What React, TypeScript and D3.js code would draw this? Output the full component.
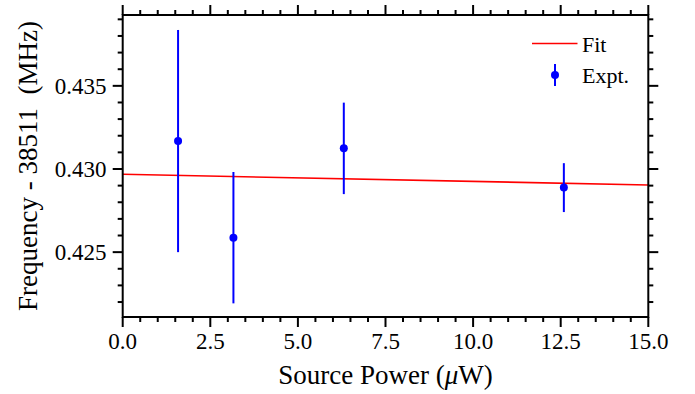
import React from "react";
import * as d3 from "d3";

const powers = [1.58, 3.16, 6.31, 12.59];
const freqs = [0.43168, 0.42587, 0.43124, 0.42888];
const errors = [0.00668, 0.00395, 0.00275, 0.00147];
const fitX = [0, 15];
const fitY = [0.42968, 0.42904];
const xTicks = [0, 2.5, 5, 7.5, 10, 12.5, 15];
const yTicks = [0.425, 0.43, 0.435];

const W = 695, H = 394;
const L = 122.7, R = 648.3, T = 15, B = 317;
const FONT = "'Liberation Serif', 'Times New Roman', serif";
const BLUE = "#0000ff";
const RED = "#ff0000";

export default function App() {
  const x = d3.scaleLinear().domain([0, 15]).range([L, R]);
  const y = d3.scaleLinear().domain([0.4211, 0.43926]).range([B, T]);
  const xMinor = d3.range(0, 15.001, 0.5).filter((v) => !xTicks.some((t) => Math.abs(t - v) < 1e-6));
  const yMinor = d3.range(0.422, 0.4392, 0.001).filter((v) => !yTicks.some((t) => Math.abs(t - v) < 1e-6));
  const line = d3.line<number>().x((d) => x(fitX[d])).y((d) => y(fitY[d]));
  const major = 10, minor = 5;
  return (
    <svg width={W} height={H} style={{ position: "absolute", left: 0, top: 0, background: "#fff" }} fontFamily={FONT}>
      <rect x={0} y={0} width={W} height={H} fill="#fff" />
      {/* fit */}
      <path d={line([0, 1]) || ""} stroke={RED} strokeWidth={1.6} fill="none" />
      {/* data */}
      {powers.map((p, i) => (
        <g key={i}>
          <line x1={x(p)} x2={x(p)} y1={y(freqs[i] + errors[i])} y2={y(freqs[i] - errors[i])} stroke={BLUE} strokeWidth={2} />
          <circle cx={x(p)} cy={y(freqs[i])} r={4} fill={BLUE} />
        </g>
      ))}
      {/* frame */}
      <rect x={L} y={T} width={R - L} height={B - T} fill="none" stroke="#000" strokeWidth={2} />
      {/* x ticks */}
      {xTicks.map((t) => (
        <g key={"x" + t}>
          <line x1={x(t)} x2={x(t)} y1={B} y2={B + major} stroke="#000" strokeWidth={2} />
          <line x1={x(t)} x2={x(t)} y1={T} y2={T - major} stroke="#000" strokeWidth={2} />
          <text x={x(t)} y={349} fontSize={23} textAnchor="middle">{t.toFixed(1)}</text>
        </g>
      ))}
      {xMinor.map((t) => (
        <g key={"xm" + t}>
          <line x1={x(t)} x2={x(t)} y1={B} y2={B + minor} stroke="#000" strokeWidth={2} />
          <line x1={x(t)} x2={x(t)} y1={T} y2={T - minor} stroke="#000" strokeWidth={2} />
        </g>
      ))}
      {/* y ticks */}
      {yTicks.map((t) => (
        <g key={"y" + t}>
          <line x1={L} x2={L - major} y1={y(t)} y2={y(t)} stroke="#000" strokeWidth={2} />
          <line x1={R} x2={R + major} y1={y(t)} y2={y(t)} stroke="#000" strokeWidth={2} />
          <text x={106.5} y={y(t) + 8} fontSize={23} textAnchor="end">{t.toFixed(3)}</text>
        </g>
      ))}
      {yMinor.map((t) => (
        <g key={"ym" + t}>
          <line x1={L} x2={L - minor} y1={y(t)} y2={y(t)} stroke="#000" strokeWidth={2} />
          <line x1={R} x2={R + minor} y1={y(t)} y2={y(t)} stroke="#000" strokeWidth={2} />
        </g>
      ))}
      {/* axis titles */}
      <text x={(L + R) / 2} y={383.5} fontSize={27} textAnchor="middle">
        Source Power (<tspan fontStyle="italic">μ</tspan>W)
      </text>
      <text transform={`translate(36.5, ${(T + B) / 2}) rotate(-90)`} fontSize={27} textAnchor="middle" style={{ whiteSpace: "pre" }}>
        {"Frequency - 38511  (MHz)"}
      </text>
      {/* legend */}
      <line x1={532} x2={577.5} y1={43.5} y2={43.5} stroke={RED} strokeWidth={1.6} />
      <text x={582} y={51.5} fontSize={22}>Fit</text>
      <line x1={555} x2={555} y1={64} y2={86} stroke={BLUE} strokeWidth={2} />
      <circle cx={555} cy={75} r={4} fill={BLUE} />
      <text x={582} y={83} fontSize={22}>Expt.</text>
    </svg>
  );
}
